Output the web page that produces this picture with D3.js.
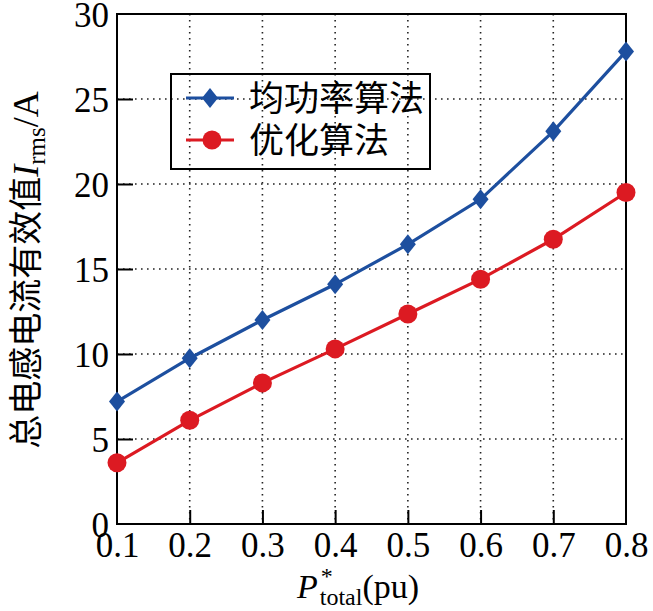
<!DOCTYPE html>
<html><head><meta charset="utf-8">
<script src="https://cdn.jsdelivr.net/npm/d3@7"></script>
<style>body{margin:0;background:#fff}</style>
</head><body>
<svg id="c" width="653" height="611"></svg>
<script>
const xValues = [0.1,0.2,0.3,0.4,0.5,0.6,0.7,0.8];
const avgPower = [7.2,9.75,12.0,14.1,16.45,19.1,23.1,27.8];
const optimized = [3.6,6.1,8.3,10.3,12.35,14.4,16.75,19.5];
const xTicks = [0.1,0.2,0.3,0.4,0.5,0.6,0.7,0.8];
const yTicks = [0,5,10,15,20,25,30];
const seriesNames = ["均功率算法","优化算法"];

const svg = d3.select("#c");
const L=117,R=626,T=14,B=524;
const x = d3.scaleLinear().domain([0.1,0.8]).range([L,R]);
const y = d3.scaleLinear().domain([0,30]).range([B,T]);
const blue="#1d4f9f", red="#dc1a22";
const serif="'Liberation Serif','Times New Roman',serif";
const cjk="'Noto Sans CJK SC',sans-serif";

// grid
const g = svg.append("g");
g.selectAll(".vg").data(xTicks.slice(1,-1)).enter().append("line")
 .attr("x1",d=>x(d)).attr("x2",d=>x(d)).attr("y1",T).attr("y2",B)
 .attr("stroke","#222").attr("stroke-width",1.6).attr("stroke-dasharray","1.6,4.4");
g.selectAll(".hg").data(yTicks.slice(1,-1)).enter().append("line")
 .attr("x1",L).attr("x2",R).attr("y1",d=>y(d)).attr("y2",d=>y(d))
 .attr("stroke","#222").attr("stroke-width",1.6).attr("stroke-dasharray","1.6,4.4");

// axes
const xAxis = d3.axisBottom(x).tickValues(xTicks).tickSize(-14).tickPadding(8).tickFormat(d3.format(".1f"));
const yAxis = d3.axisLeft(y).tickValues(yTicks).tickSize(-16).tickPadding(8).tickFormat(d3.format("d"));
const gx = svg.append("g").attr("transform",`translate(0,${B})`).call(xAxis);
const gy = svg.append("g").attr("transform",`translate(${L},0)`).call(yAxis);
[gx,gy].forEach(a=>{
  a.select(".domain").remove();
  a.selectAll("line").attr("stroke","#000").attr("stroke-width",2);
  a.selectAll("text").attr("font-family",serif).attr("font-size",35).attr("fill","#000");
});
gx.selectAll("text").attr("dy","0.7em");
gy.selectAll("text").attr("dy","0.35em");
gx.selectAll(".tick").filter(d=>d===0.1||d===0.8).select("line").remove();
gy.selectAll(".tick").filter(d=>d===0||d===30).select("line").remove();

// frame
svg.append("rect").attr("x",L).attr("y",T).attr("width",R-L).attr("height",B-T)
 .attr("fill","none").attr("stroke","#000").attr("stroke-width",2);

// lines
const line = d3.line().x((d,i)=>x(xValues[i])).y(d=>y(d));
svg.append("path").datum(avgPower).attr("d",line).attr("fill","none").attr("stroke",blue).attr("stroke-width",3.2);
svg.append("path").datum(optimized).attr("d",line).attr("fill","none").attr("stroke",red).attr("stroke-width",3.2);
const diamond = (cx,cy)=>`M${cx},${cy-10}L${cx+8},${cy}L${cx},${cy+10}L${cx-8},${cy}Z`;
svg.selectAll(".dm").data(avgPower).enter().append("path")
 .attr("d",(d,i)=>diamond(x(xValues[i]),y(d))).attr("fill",blue);
svg.selectAll(".ci").data(optimized).enter().append("circle")
 .attr("cx",(d,i)=>x(xValues[i])).attr("cy",d=>y(d)).attr("r",9.5).attr("fill",red);

// legend
svg.append("rect").attr("x",171).attr("y",74).attr("width",259).attr("height",95)
 .attr("fill","none").attr("stroke","#000").attr("stroke-width",2);
const ly=[98,140];
[blue,red].forEach((c,i)=>{
  svg.append("line").attr("x1",186).attr("x2",234).attr("y1",ly[i]).attr("y2",ly[i]).attr("stroke",c).attr("stroke-width",3.2);
  if(i===0) svg.append("path").attr("d",diamond(210,ly[i])).attr("fill",c);
  else svg.append("circle").attr("cx",212).attr("cy",ly[i]).attr("r",9.5).attr("fill",c);
  svg.append("text").attr("x",249).attr("y",ly[i]).attr("dy","0.36em")
   .attr("font-family",cjk).attr("font-size",35).attr("font-weight",400).attr("fill","#000").text(seriesNames[i]);
});

// x label
const xl = svg.append("text").attr("x",297).attr("y",598)
 .attr("font-family",serif).attr("font-size",34).attr("fill","#000");
xl.append("tspan").attr("font-style","italic").text("P");
xl.append("tspan").attr("font-size",24).attr("dy",-14).attr("dx",3).text("*");
xl.append("tspan").attr("font-size",24).attr("dy",21).attr("dx",-13).text("total");
xl.append("tspan").attr("dy",-7).text("(pu)");

// y label
const yl = svg.append("text").attr("transform","translate(38,270) rotate(-90)").attr("text-anchor","middle")
 .attr("font-size",36).attr("fill","#000");
yl.append("tspan").attr("font-family",cjk).attr("font-size",34).attr("font-weight",400).text("总电感电流有效值");
yl.append("tspan").attr("font-family",serif).attr("font-style","italic").text("I");
yl.append("tspan").attr("font-family",serif).attr("font-size",25).attr("dy",7).text("rms");
yl.append("tspan").attr("font-family",serif).attr("dy",-7).text("/A");
</script>
</body></html>
